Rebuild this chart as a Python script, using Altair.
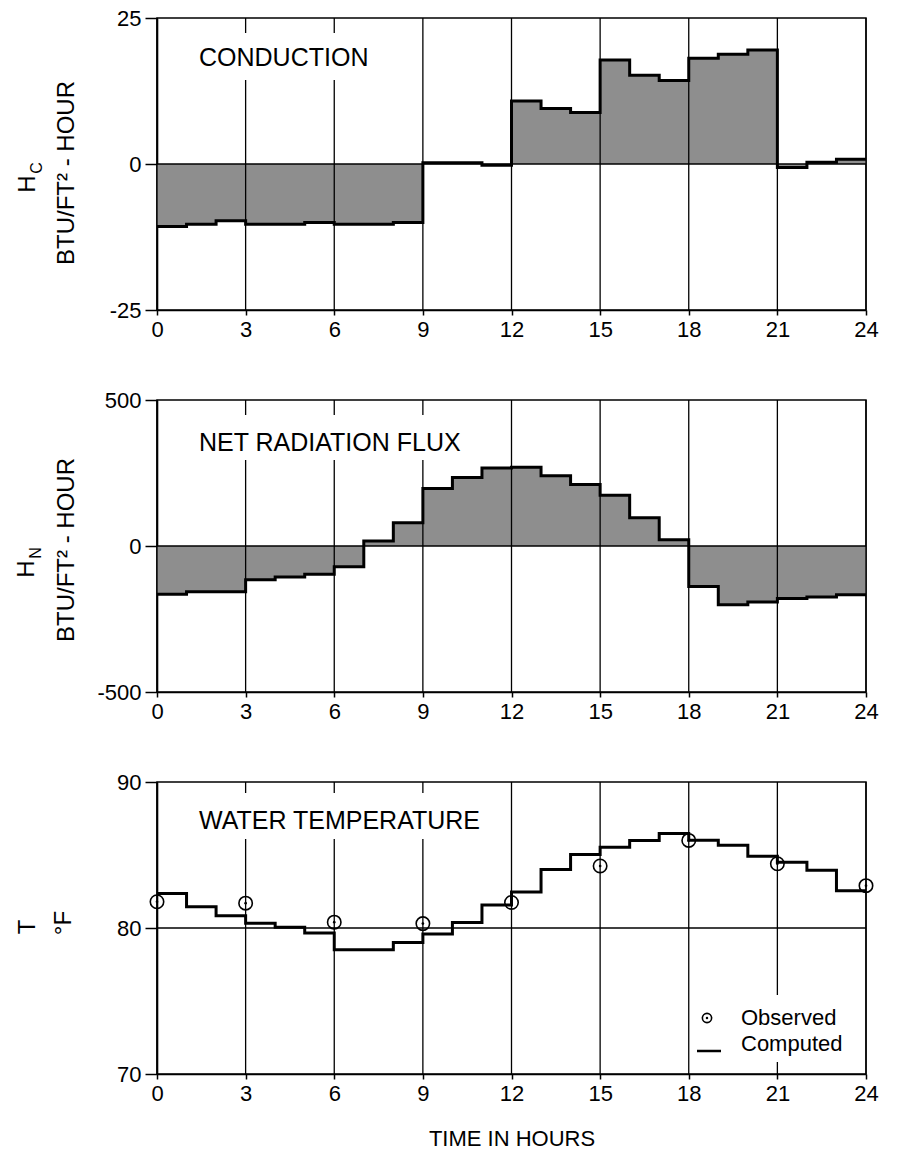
import altair as alt
import pandas as pd

# ---------------- data ----------------
HOURS = list(range(24))
CONDUCTION = [-10.7, -10.3, -9.7, -10.3, -10.3, -10.0, -10.3, -10.3, -10.0,
              0.2, 0.2, -0.2, 10.8, 9.5, 8.8, 17.8, 15.2, 14.3,
              18.1, 18.8, 19.5, -0.6, 0.3, 0.8]
RADIATION = [-165, -157, -157, -116, -106, -97, -71, 17, 80,
             197, 235, 267, 270, 241, 211, 174, 97, 21,
             -139, -201, -192, -180, -175, -167]
TEMP_COMPUTED = [82.37, 81.46, 80.84, 80.32, 80.05, 79.66, 78.51, 78.51, 79.0,
                 79.59, 80.38, 81.58, 82.47, 84.0, 85.03, 85.53, 85.99, 86.47,
                 86.01, 85.67, 84.91, 84.5, 83.95, 82.55]
OBS_HOURS = [0, 3, 6, 9, 12, 15, 18, 21, 24]
OBS_TEMP = [81.8, 81.7, 80.4, 80.3, 81.75, 84.25, 86.0, 84.4, 82.9]

X_TICKS = [0, 3, 6, 9, 12, 15, 18, 21, 24]
Y_TICKS_C = [-25, 0, 25]
Y_TICKS_N = [-500, 0, 500]
Y_TICKS_T = [70, 80, 90]
REF_C = [0]
REF_N = [0]
REF_T = [80]

TITLES = ["CONDUCTION", "NET RADIATION FLUX", "WATER TEMPERATURE"]
YTITLE_C = ["H", "C", "BTU/FT\u00b2 - HOUR"]
YTITLE_N = ["H", "N", "BTU/FT\u00b2 - HOUR"]
YTITLE_T = ["T", "\u00b0F"]
LEGEND_LABELS = ["Observed", "Computed"]
X_TITLE = "TIME IN HOURS"

FONT = "Liberation Sans"
GRAY = "#8e8e8e"
W, H = 709, 292


def step_frame(values):
    # step-after series: the last hourly value is carried to hour 24 to close the final step
    return pd.DataFrame({"hour": HOURS + [24], "value": values + [values[-1]]})


x_axis_plain = alt.Axis(values=X_TICKS, grid=False, title=None, labelFlush=False,
                        labelOverlap=False)
x_axis_title = alt.Axis(values=X_TICKS, grid=False, title=X_TITLE, labelFlush=False,
                        labelOverlap=False)


def x_enc(axis):
    return alt.X("hour:Q", scale=alt.Scale(domain=[0, 24], nice=False, zero=False), axis=axis)


def y_enc(domain, ticks):
    return alt.Y("value:Q", scale=alt.Scale(domain=domain, nice=False, zero=False),
                 axis=alt.Axis(values=ticks, grid=False, title=None, labelFlush=False,
                               labelOverlap=False,
                               labelExpr="datum.value < 0 ? '-' + abs(datum.value) : '' + datum.value"))


def text_layer(text, x, y, size, angle=0, align="center"):
    kw = dict(font=FONT, fontSize=size, align=align, baseline="middle", color="black")
    if angle:
        kw["angle"] = angle
    return alt.Chart(pd.DataFrame({"t": [text]})).mark_text(**kw).encode(
        text="t:N", x=alt.value(x), y=alt.value(y))


def white_box(x1, x2, y1, y2):
    return alt.Chart(pd.DataFrame({"t": [""]})).mark_rect(color="white").encode(
        x=alt.value(x1), x2=alt.value(x2), y=alt.value(y1), y2=alt.value(y2))


def grid_and_ref(xax, yenc, ref):
    grid = alt.Chart(pd.DataFrame({"hour": X_TICKS})).mark_rule(
        color="black", strokeWidth=1.3).encode(x=x_enc(xax))
    refl = alt.Chart(pd.DataFrame({"value": ref})).mark_rule(
        color="black", strokeWidth=1.3).encode(y=yenc)
    return grid, refl


def flux_panel(values, domain, ticks, ref, title, ytitle, box, ypos):
    df = step_frame(values)
    yenc = y_enc(domain, ticks)
    area = alt.Chart(df).mark_area(interpolate="step-after", color=GRAY).encode(
        x=x_enc(x_axis_plain), y=yenc, y2=alt.datum(0))
    grid, refl = grid_and_ref(x_axis_plain, yenc, ref)
    line = alt.Chart(df).mark_line(interpolate="step-after", color="black",
                                   strokeWidth=3).encode(x=x_enc(x_axis_plain), y=yenc)
    layers = [area, grid, refl, line, white_box(*box), text_layer(title, 42, ypos, 25, align="left")]
    (hx, hy), (sx, sy), (lx, ly) = YPOS_FLUX[title]
    layers += [text_layer(ytitle[0], hx, hy, 24, 270),
               text_layer(ytitle[1], sx, sy, 16, 270),
               text_layer(ytitle[2], lx, ly, 24, 270)]
    return alt.layer(*layers).properties(width=W, height=H)


YPOS_FLUX = {
    TITLES[0]: [(-129, 166), (-120, 150), (-90, 155)],
    TITLES[1]: [(-130, 169), (-121, 153), (-90, 150)],
}

p1 = flux_panel(CONDUCTION, [-25, 25], Y_TICKS_C, REF_C, TITLES[0], YTITLE_C,
                (36, 214, 15, 62), 40)
p2 = flux_panel(RADIATION, [-500, 500], Y_TICKS_N, REF_N, TITLES[1], YTITLE_N,
                (36, 340, 15, 60), 43)

# ---------------- temperature panel ----------------
dft = step_frame(TEMP_COMPUTED)
obs = pd.DataFrame({"hour": OBS_HOURS, "value": OBS_TEMP})
yenc_t = y_enc([70, 90], Y_TICKS_T)
grid_t, ref_t = grid_and_ref(x_axis_title, yenc_t, REF_T)
line_t = alt.Chart(dft).mark_line(interpolate="step-after", color="black",
                                  strokeWidth=3).encode(x=x_enc(x_axis_title), y=yenc_t)
obs_ring = alt.Chart(obs).mark_point(shape="circle", filled=False, size=180, color="black",
                                     strokeWidth=1.6, opacity=1).encode(
    x=x_enc(x_axis_title), y=yenc_t)
obs_dot = alt.Chart(obs).mark_point(shape="circle", filled=True, size=7, color="black",
                                    opacity=1).encode(x=x_enc(x_axis_title), y=yenc_t)

leg_ring = alt.Chart(pd.DataFrame({"t": [LEGEND_LABELS[0]]})).mark_point(
    shape="circle", filled=False, size=85, color="black", strokeWidth=1.6, opacity=1).encode(
    x=alt.value(550), y=alt.value(236))
leg_dot = alt.Chart(pd.DataFrame({"t": [LEGEND_LABELS[0]]})).mark_point(
    shape="circle", filled=True, size=6, color="black", opacity=1).encode(
    x=alt.value(550), y=alt.value(236))
leg_dash = alt.Chart(pd.DataFrame({"t": [LEGEND_LABELS[1]]})).mark_rule(
    color="black", strokeWidth=2.5).encode(x=alt.value(540), x2=alt.value(564), y=alt.value(269))

p3 = alt.layer(
    grid_t, ref_t, line_t, obs_ring, obs_dot,
    white_box(36, 345, 11, 57), text_layer(TITLES[2], 42, 39, 25, align="left"),
    white_box(538, 700, 213, 280), leg_ring, leg_dot, leg_dash,
    text_layer(LEGEND_LABELS[0], 584, 236, 22, align="left"),
    text_layer(LEGEND_LABELS[1], 584, 262, 22, align="left"),
    text_layer(YTITLE_T[0], -129, 145, 24, 270),
    text_layer(YTITLE_T[1], -93, 141, 24, 270),
).properties(width=W, height=H)

chart = alt.vconcat(p1, p2, p3, spacing=90, bounds="flush").properties(
    padding={"left": 14, "top": 6, "right": 5, "bottom": 5},
    background="white",
).configure_view(
    stroke="black", strokeWidth=1.5
).configure_axis(
    labelFont=FONT, labelFontSize=22, labelColor="black",
    domainColor="black", domainWidth=1.6, tickColor="black", tickWidth=1.5,
    titleFont=FONT, titleFontSize=22, titleFontWeight="normal", titleColor="black",
    zindex=1,
).configure_axisY(
    tickSize=12, labelPadding=4
).configure_axisX(
    tickSize=5, labelPadding=4, titlePadding=24
)

chart.save("out.html", embed_options={"renderer": "svg", "actions": False})
